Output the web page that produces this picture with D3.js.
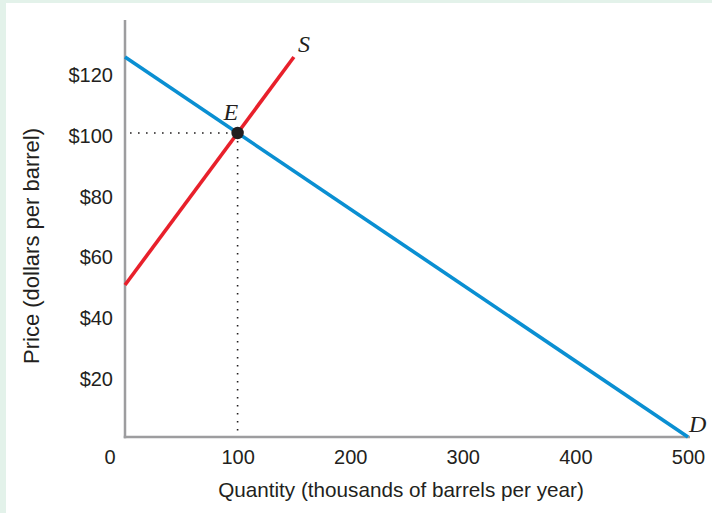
<!DOCTYPE html>
<html><head><meta charset="utf-8">
<script src="https://cdn.jsdelivr.net/npm/d3@7"></script>
<style>
html,body{margin:0;padding:0;background:#fff;}
svg{display:block;}
</style></head>
<body>
<svg id="chart" width="712" height="513"></svg>
<script>
// Data
const xTicks = [100, 200, 300, 400, 500];
const yTicks = [20, 40, 60, 80, 100, 120];
const demandQ = [0, 500];
const demandP = [125, 0];
const supplyQ = [0, 150];
const supplyP = [50, 125];
const eqQ = [100];
const eqP = [100];

const svg = d3.select("#chart");
const W = 712, H = 513;
// background border
svg.append("rect").attr("x",0).attr("y",0).attr("width",W).attr("height",H).attr("fill","#e3f2ea");
svg.append("rect").attr("x",6).attr("y",3).attr("width",W-6).attr("height",H-3).attr("fill","#fff");

const x = d3.scaleLinear().domain([0, 500]).range([125, 688]);
const y = d3.scaleLinear().domain([0, 100]).range([437, 133]);

const font = "'Liberation Sans', Arial, Helvetica, sans-serif";
const fs = 20;

// axes lines
const axisColor = "#9d9d9f";
svg.append("line").attr("x1", x(0)).attr("x2", x(0)).attr("y1", 20).attr("y2", y(0)+1.25)
  .attr("stroke", axisColor).attr("stroke-width", 2.5);
svg.append("line").attr("x1", x(0)-1.25).attr("x2", 690).attr("y1", y(0)).attr("y2", y(0))
  .attr("stroke", axisColor).attr("stroke-width", 2.5);

// tick labels
const xAxis = d3.axisBottom(x).tickValues(xTicks).tickSize(0).tickPadding(0).tickFormat(d3.format("d"));
const gx = svg.append("g").attr("transform", `translate(0,${y(0)})`).call(xAxis);
gx.select(".domain").remove();
gx.selectAll("text").attr("y", 27).attr("dy", "0").attr("font-family", font).attr("font-size", fs).attr("fill", "#231f20");

svg.append("text").attr("x", 110).attr("y", y(0)+27).attr("text-anchor","middle")
  .attr("font-family", font).attr("font-size", fs).attr("fill", "#231f20").text("0");

const yAxis = d3.axisLeft(y).tickValues(yTicks).tickSize(0).tickPadding(0).tickFormat(d => "$" + d);
const gy = svg.append("g").attr("transform", `translate(113,0)`).call(yAxis);
gy.select(".domain").remove();
gy.selectAll("text").attr("x", 0).attr("dy", "0.36em").attr("font-family", font).attr("font-size", fs).attr("fill", "#231f20")
  .attr("transform","translate(0,2)");

// axis titles
svg.append("text").attr("x", 401).attr("y", 497).attr("text-anchor", "middle")
  .attr("font-family", font).attr("font-size", 20.7).attr("fill", "#231f20")
  .text("Quantity (thousands of barrels per year)");
svg.append("text").attr("transform", `translate(39,${246}) rotate(-90)`).attr("text-anchor", "middle")
  .attr("font-family", font).attr("font-size", 22).attr("fill", "#231f20")
  .text("Price (dollars per barrel)");

// dotted guides
const dot = {stroke:"#231f20", w:1.6, dash:"1.6,6.4"};
svg.append("line").attr("x1", x(0)+5).attr("x2", x(eqQ[0])).attr("y1", y(eqP[0])).attr("y2", y(eqP[0]))
  .attr("stroke", dot.stroke).attr("stroke-width", dot.w).attr("stroke-dasharray", dot.dash);
svg.append("line").attr("x1", x(eqQ[0])).attr("x2", x(eqQ[0])).attr("y1", y(eqP[0])).attr("y2", y(0)-2)
  .attr("stroke", dot.stroke).attr("stroke-width", dot.w).attr("stroke-dasharray", dot.dash);

// curves
const line = d3.line().x(d => x(d[0])).y(d => y(d[1]));
svg.append("path").datum(demandQ.map((q,i)=>[q, demandP[i]])).attr("d", line)
  .attr("fill","none").attr("stroke","#0a8fd2").attr("stroke-width",3.6);
svg.append("path").datum(supplyQ.map((q,i)=>[q, supplyP[i]])).attr("d", line)
  .attr("fill","none").attr("stroke","#e8202b").attr("stroke-width",3.6);

// equilibrium point
svg.append("circle").attr("cx", x(eqQ[0])).attr("cy", y(eqP[0])).attr("r", 6.2).attr("fill","#231f20");

// curve labels
const serif = "'Liberation Serif', 'Times New Roman', serif";
svg.append("text").attr("x", x(supplyQ[1]) + 4).attr("y", y(supplyP[1]) - 5)
  .attr("font-family", serif).attr("font-style","italic").attr("font-size", 24).attr("fill","#231f20").text("S");
svg.append("text").attr("x", x(eqQ[0]) - 14).attr("y", y(eqP[0]) - 13)
  .attr("font-family", serif).attr("font-style","italic").attr("font-size", 24).attr("fill","#231f20").text("E");
svg.append("text").attr("x", x(demandQ[1]) + 1).attr("y", y(demandP[1]) - 5)
  .attr("font-family", serif).attr("font-style","italic").attr("font-size", 24).attr("fill","#231f20").text("D");
</script>
</body></html>
